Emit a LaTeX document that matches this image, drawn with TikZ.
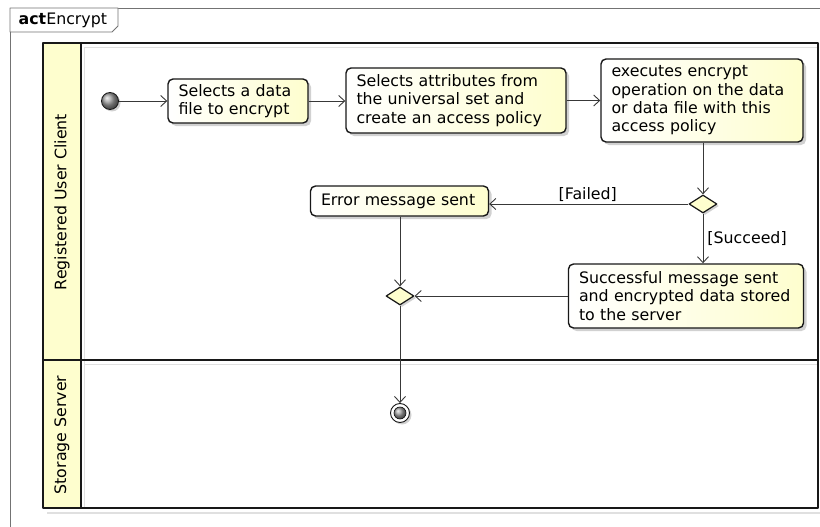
\documentclass[tikz,border=0pt]{standalone}
\usepackage{fontspec}
\setmainfont{DejaVu Sans}
\usepackage{xcolor}
\usepackage{tikz}
\usetikzlibrary{arrows.meta,calc,shapes.geometric,shadows}
\definecolor{umlyel}{RGB}{254,254,206}
\definecolor{umlline}{RGB}{24,24,24}
\definecolor{umlarr}{RGB}{56,56,56}

\begin{document}
\begin{tikzpicture}[x=1pt, y=-1pt, >={Straight Barb[length=6pt,width=11pt]}, line join=round,
  txt/.style={font=\fontsize{15.8}{18.3}\selectfont, text=black},
  act/.style={txt, draw=umlline, line width=1.4pt, rounded corners=5pt, left color=white, right color=umlyel,
    align=left, inner xsep=10.5pt, inner ysep=0pt, anchor=center,
    drop shadow={shadow xshift=3pt, shadow yshift=-3pt, fill=black!18, opacity=1}},
  branch/.style={diamond, draw=umlline, line width=1.2pt, fill=umlyel, inner sep=0pt,
    minimum width=28pt, minimum height=18pt,
    drop shadow={shadow xshift=2pt, shadow yshift=-2pt, fill=black!18, opacity=1}},
  flow/.style={->, umlarr, line width=0.9pt},
  guard/.style={txt, inner sep=2pt}]
  \useasboundingbox (0,0) rectangle (820,527);

  % frame with its tab
  \draw[black!55, line width=0.8pt] (820,8) -- (10,8) -- (10,527);
  \draw[black!55, line width=0.8pt, fill=white] (10,8) -- (118,8) -- (118,26) -- (112,32) -- (10,32) -- cycle;
  \node[txt, anchor=west, inner sep=0pt] at (18.5,20) {\textbf{act}Encrypt};

  % swimlanes
  \fill[black!12] (47,512) rectangle (822,514);
  \draw[black!12, line width=1.5pt] (84,47.5) -- (818,47.5);
  \draw[black!12, line width=1.5pt] (84,364.5) -- (818,364.5);
  \draw[black!12, line width=1.5pt] (84.5,47) -- (84.5,508);
  \fill[umlyel] (43,43) rectangle (81,508);
  \draw[umlline, line width=1.8pt] (43,43) rectangle (818,508);
  \draw[umlline, line width=1.8pt] (81,43) -- (81,508);
  \draw[umlline, line width=1.8pt] (43,360) -- (818,360);
  \node[txt, rotate=90] at (62,202) {Registered User Client};
  \node[txt, rotate=90] at (62,435) {Storage Server};

  % start and end
  \node[circle, draw=umlline, line width=0.8pt, ball color=gray!75, minimum size=17pt, inner sep=0pt,
    drop shadow={shadow xshift=2pt, shadow yshift=-2pt, fill=black!18, opacity=1}] (S) at (110,101) {};
  \node[circle, draw=umlline, line width=0.9pt, fill=white, minimum size=19pt, inner sep=0pt,
    drop shadow={shadow xshift=2pt, shadow yshift=-2pt, fill=black!18, opacity=1}] (F) at (400,413) {};
  \fill[ball color=gray!75] (F) circle (6pt);
  \draw[umlline, line width=0.6pt] (F) circle (6pt);

  % actions
  \node[act, minimum width=140pt, minimum height=44pt, text width=119pt] (A1) at (238,101)
    {Selects a data\\file to encrypt};
  \node[act, minimum width=220pt, minimum height=65pt, text width=199pt] (A2) at (456,100.5)
    {Selects attributes from\\the universal set and\\create an access policy};
  \node[act, minimum width=202pt, minimum height=83pt, text width=181pt] (A3) at (702,100.5)
    {executes encrypt\\operation on the data\\or data file with this\\access policy};
  \node[act, minimum width=177pt, minimum height=30pt, text width=157pt] (E1) at (399.5,201)
    {Error message sent};
  \node[act, minimum width=234pt, minimum height=64pt, text width=214pt] (S1) at (686,296)
    {Successful message sent\\and encrypted data stored\\to the server};

  % decisions
  \node[branch] (D1) at (703,204) {};
  \node[branch] (D2) at (400,296) {};

  % flows
  \draw[flow] (S) -- (A1);
  \draw[flow] (A1) -- (A1 -| A2.west);
  \draw[flow] (A2.east |- A3) -- (A3);
  \draw[flow] (A3.south -| D1) -- (D1.north);
  \draw[flow] (D1.west) -- (D1 -| E1.east) node[guard, midway, above, xshift=-1pt] {[Failed]};
  \draw[flow] (D1.south) -- (D1.south |- S1.north) node[guard, midway, right, xshift=2pt] {[Succeed]};
  \draw[flow] (E1.south -| D2) -- (D2.north);
  \draw[flow] (S1.west |- D2) -- (D2.east);
  \draw[flow] (D2.south) -- (F.north);
\end{tikzpicture}
\end{document}
